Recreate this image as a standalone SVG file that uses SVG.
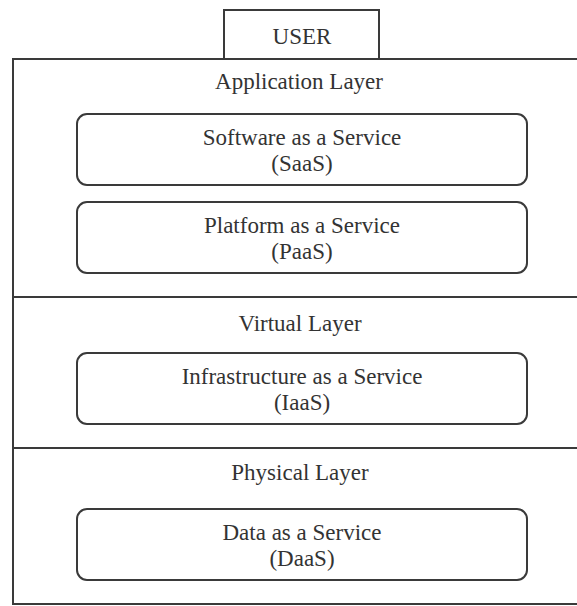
<svg xmlns="http://www.w3.org/2000/svg" width="577" height="606" viewBox="0 0 577 606">
<style>
.ln{fill:none;stroke:#3a3a3a;stroke-width:2}
.bx{fill:#fff;stroke:#3a3a3a;stroke-width:2}
text{font-family:"Liberation Serif","Times New Roman",serif;font-size:23px;fill:#333;text-anchor:middle}
</style>
<rect width="577" height="606" fill="#fff"/>
<g id="user"><rect class="bx" x="224" y="10" width="155" height="49"/><text x="302" y="44">USER</text></g>
<g id="frame"><rect class="ln" x="13" y="59" width="570" height="545"/></g>
<g id="connectors"><line class="ln" x1="13" y1="297" x2="577" y2="297"/><line class="ln" x1="13" y1="448" x2="577" y2="448"/></g>
<g id="app-layer"><text x="299" y="89">Application Layer</text></g>
<g id="saas"><rect class="bx" x="77" y="114" width="450" height="71" rx="10"/><text x="302" y="145">Software as a Service</text><text x="302" y="171">(SaaS)</text></g>
<g id="paas"><rect class="bx" x="77" y="202" width="450" height="71" rx="10"/><text x="302" y="233">Platform as a Service</text><text x="302" y="259">(PaaS)</text></g>
<g id="virtual-layer"><text x="300" y="331">Virtual Layer</text></g>
<g id="iaas"><rect class="bx" x="77" y="353" width="450" height="71" rx="10"/><text x="302" y="384">Infrastructure as a Service</text><text x="302" y="410">(IaaS)</text></g>
<g id="physical-layer"><text x="300" y="480">Physical Layer</text></g>
<g id="daas"><rect class="bx" x="77" y="509" width="450" height="71" rx="10"/><text x="302" y="540">Data as a Service</text><text x="302" y="566">(DaaS)</text></g>
</svg>
